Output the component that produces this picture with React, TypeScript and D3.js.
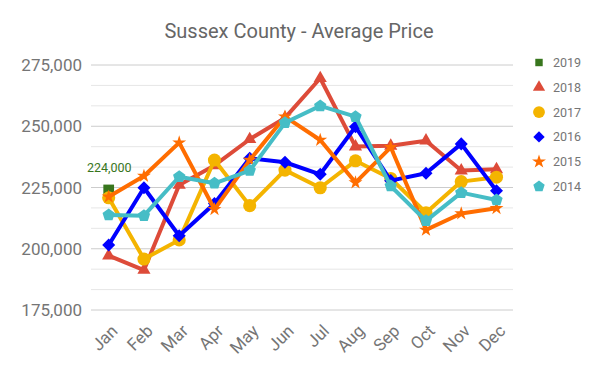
import React, { useEffect, useRef } from 'react';
import * as d3 from 'd3';

const months = ['Jan', 'Feb', 'Mar', 'Apr', 'May', 'Jun', 'Jul', 'Aug', 'Sep', 'Oct', 'Nov', 'Dec'];
const yTicks = [175000, 200000, 225000, 250000, 275000];

const v2019 = [224000];
const v2018 = [197200, 191300, 226000, 234000, 244700, 253400, 269600, 241700, 242000, 244100, 231900, 232400];
const v2017 = [220800, 195800, 203600, 236200, 217600, 232100, 224900, 235900, 228700, 214700, 227400, 229200];
const v2016 = [201500, 224900, 205300, 218500, 236900, 235300, 230400, 249800, 227800, 230800, 242800, 223700];
const v2015 = [221200, 229700, 243300, 216100, 236200, 253900, 244400, 227000, 241400, 207700, 214400, 216500];
const v2014 = [213800, 213500, 229400, 226700, 231900, 251400, 258300, 253900, 225600, 211400, 222900, 219900];

const seriesNames = ['2019', '2018', '2017', '2016', '2015', '2014'];
const seriesColors = ['#38761d', '#dd4b39', '#f4b400', '#0000ff', '#ff6d00', '#46bdc6'];

// d3 has no pentagon, so a small custom symbol type
const symbolPentagon = {
  draw(context: any, size: number) {
    const r = Math.sqrt(size / 2.378);
    for (let i = 0; i < 5; i++) {
      const a = -Math.PI / 2 + (i * 2 * Math.PI) / 5;
      const px = r * Math.cos(a);
      const py = r * Math.sin(a);
      if (i === 0) context.moveTo(px, py);
      else context.lineTo(px, py);
    }
    context.closePath();
  },
};

// square turned 45 degrees (d3's own diamond is stretched)
const symbolRhomb = {
  draw(context: any, size: number) {
    const r = Math.sqrt(size / 2);
    context.moveTo(0, -r);
    context.lineTo(r, 0);
    context.lineTo(0, r);
    context.lineTo(-r, 0);
    context.closePath();
  },
};

export default function App() {
  const svgRef = useRef<SVGSVGElement>(null);

  useEffect(() => {
    if (!svgRef.current) return;
    const svg = d3.select(svgRef.current);
    svg.selectAll('*').remove();

    const values = [v2019, v2018, v2017, v2016, v2015, v2014];
    const symbols: any[] = [d3.symbolSquare, d3.symbolTriangle, d3.symbolCircle, symbolRhomb, d3.symbolStar, symbolPentagon];
    const sizes = [115, 75, 135, 85, 60, 100];
    const font = 'Roboto, sans-serif';

    const x = d3.scalePoint<string>().domain(months).range([108.7, 496.5]);
    const y = d3.scaleLinear().domain([175000, 275000]).range([310, 65]);

    // white background
    svg.append('rect').attr('width', 600).attr('height', 371).attr('fill', '#fff');

    // gridlines: minor every third of a major step
    const minor = d3.range(175000, 275001, 25000 / 3);
    svg.append('g').selectAll('line').data(minor).enter().append('line')
      .attr('x1', 91).attr('x2', 513)
      .attr('y1', d => y(d)).attr('y2', d => y(d))
      .attr('stroke', d => yTicks.some(t => Math.abs(t - d) < 1) ? '#cccccc' : '#e6e6e6')
      .attr('stroke-width', 1);

    // y labels
    svg.append('g').selectAll('text').data(yTicks).enter().append('text')
      .attr('x', 82).attr('y', d => y(d) + 6)
      .attr('text-anchor', 'end')
      .attr('font-family', font).attr('font-size', 17).attr('fill', '#757575')
      .text(d => d3.format(',')(d));

    // x labels
    svg.append('g').selectAll('text').data(months).enter().append('text')
      .attr('transform', d => `translate(${(x(d) || 0) + 10},${332}) rotate(-45)`)
      .attr('text-anchor', 'end')
      .attr('font-family', font).attr('font-size', 17).attr('fill', '#757575')
      .text(d => d);

    // title
    svg.append('text')
      .attr('x', 299).attr('y', 38)
      .attr('text-anchor', 'middle')
      .attr('font-family', font).attr('font-size', 20).attr('fill', '#666666')
      .text('Sussex County - Average Price');

    const line = d3.line<number>()
      .x((_, i) => x(months[i]) || 0)
      .y(d => y(d));

    values.forEach((vals, s) => {
      const g = svg.append('g');
      if (vals.length > 1) {
        g.append('path')
          .attr('d', line(vals) || '')
          .attr('fill', 'none')
          .attr('stroke', seriesColors[s])
          .attr('stroke-width', 4)
          .attr('stroke-linejoin', 'round');
      }
      g.selectAll('path.pt').data(vals).enter().append('path')
        .attr('class', 'pt')
        .attr('d', d3.symbol().type(symbols[s]).size(sizes[s])() || '')
        .attr('transform', (d, i) => `translate(${x(months[i])},${y(d)})`)
        .attr('fill', seriesColors[s]);
    });

    // data label for 2019
    svg.append('text')
      .attr('x', (x('Jan') || 0) + 0.5).attr('y', y(v2019[0]) - 18)
      .attr('text-anchor', 'middle')
      .attr('font-family', font).attr('font-size', 12.5).attr('fill', seriesColors[0])
      .text(d3.format(',')(v2019[0]));

    // legend
    const leg = svg.append('g').selectAll('g').data(seriesNames).enter().append('g')
      .attr('transform', (_, i) => `translate(539,${62.5 + i * 24.8})`);
    leg.append('path')
      .attr('d', (_, i) => d3.symbol().type(symbols[i]).size([55, 65, 110, 65, 60, 85][i])() || '')
      .attr('fill', (_, i) => seriesColors[i]);
    leg.append('text')
      .attr('x', 14).attr('y', 4.5)
      .attr('font-family', font).attr('font-size', 12.5).attr('fill', '#757575')
      .text(d => d);
  }, []);

  return (
    <svg ref={svgRef} width={600} height={371} viewBox="0 0 600 371"
      style={{ position: 'absolute', left: 0, top: 0 }} />
  );
}
